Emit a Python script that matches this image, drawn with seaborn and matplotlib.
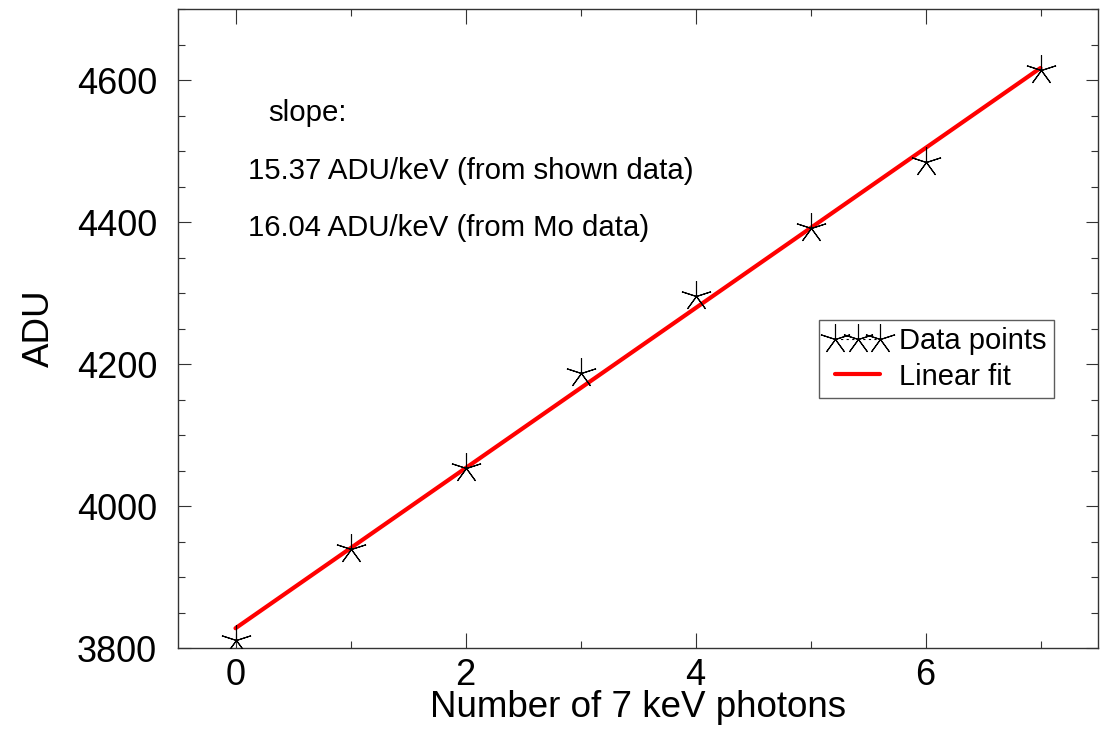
import numpy as np
import pandas as pd
import matplotlib
matplotlib.use("Agg")
import matplotlib.pyplot as plt
from matplotlib.lines import Line2D
from matplotlib.ticker import MultipleLocator
import seaborn as sns

# Measured signal per number of 7 keV photons
photons = [0, 1, 2, 3, 4, 5, 6, 7]
adu = [3811, 3940, 4054, 4187, 4296, 4392, 4485, 4614]

annotation_lines = [
    "slope:",
    "15.37 ADU/keV (from shown data)",
    "16.04 ADU/keV (from Mo data)",
]

sns.set_theme(style="white")
plt.rcParams["font.family"] = ["Liberation Sans", "DejaVu Sans"]
plt.rcParams.update({"text.color": "black", "axes.labelcolor": "black",
                     "xtick.color": "black", "ytick.color": "black"})

df = pd.DataFrame({"photons": photons, "adu": adu})
coef = np.polyfit(df["photons"], df["adu"], 1)
df["fit"] = np.polyval(coef, df["photons"])

fig = plt.figure(figsize=(11.06, 7.31), dpi=100)
ax = fig.add_axes([178 / 1106, 1 - 648 / 731, 920 / 1106, 639 / 731])

star = (5, 2, 0)
sns.lineplot(data=df, x="photons", y="fit", ax=ax, color="#ff0000",
             linewidth=3.0, zorder=2)
sns.lineplot(data=df, x="photons", y="adu", ax=ax, color="black",
             linestyle="", marker=star, markersize=22, markeredgewidth=0.8,
             markeredgecolor="black", markerfacecolor="none", zorder=3)

ax.set_xlim(-0.5, 7.5)
ax.set_ylim(3800, 4700)
ax.xaxis.set_major_locator(MultipleLocator(2))
ax.xaxis.set_minor_locator(MultipleLocator(1))
ax.yaxis.set_major_locator(MultipleLocator(200))
ax.yaxis.set_minor_locator(MultipleLocator(50))
ax.tick_params(which="both", direction="in", top=True, right=True,
               bottom=True, left=True, width=0.8, color="#333333")
ax.tick_params(which="major", labelsize=26)
ax.tick_params(which="minor", length=5)
ax.tick_params(axis="y", which="major", length=9, pad=15)
ax.tick_params(axis="x", which="major", length=11, pad=7)
for s in ax.spines.values():
    s.set_linewidth(1.0)
    s.set_color("#333333")

ax.set_xlabel("Number of 7 keV photons", fontsize=26.5, labelpad=-2)
ax.set_ylabel("ADU", fontsize=26.5, labelpad=14)

text_pos = [(0.0978, 0.8247), (0.0761, 0.734), (0.0761, 0.6448)]
for (tx, ty), line in zip(text_pos, annotation_lines):
    ax.text(tx, ty, line, transform=ax.transAxes, fontsize=21.2,
            va="baseline", ha="left", color="black")

handles = [
    Line2D([], [], color="black", linestyle=(0, (2, 3)), linewidth=0.8,
           marker=star, markersize=22, markeredgewidth=0.8,
           markeredgecolor="black"),
    Line2D([], [], color="#ff0000", linewidth=3.0),
]
leg = ax.legend(handles, ["Data points", "Linear fit"], numpoints=3,
                loc="upper left", bbox_to_anchor=(819 / 1106, 1 - 320 / 731),
                bbox_transform=fig.transFigure, fontsize=21, frameon=True,
                fancybox=False, handlelength=2.15, handletextpad=0.35,
                borderpad=0.25, labelspacing=0.25, borderaxespad=0)
leg.get_frame().set_edgecolor("#333333")
leg.get_frame().set_linewidth(1.0)

fig.savefig("out.png", dpi=100)
